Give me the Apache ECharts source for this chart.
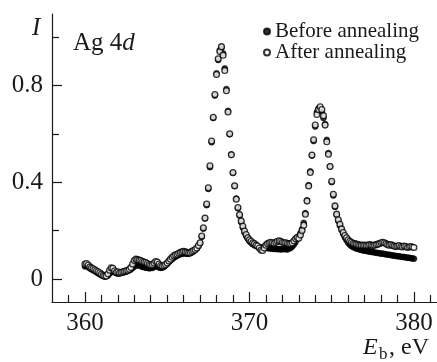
<!DOCTYPE html>
<html>
<head>
<meta charset="utf-8">
<script src="https://cdn.jsdelivr.net/npm/echarts@6/dist/echarts.min.js"></script>
<style>
  html, body { margin: 0; padding: 0; background: #fff; }
  #chart { width: 437px; height: 362px; }
</style>
</head>
<body>
<div id="chart"></div>
<script>
// binding energy grid, eV
const energies = [
  360.0, 360.1, 360.2, 360.3, 360.4, 360.5, 360.6, 360.7, 360.8, 360.9,
  361.0, 361.1, 361.2, 361.3, 361.4, 361.5, 361.6, 361.7, 361.8, 361.9,
  362.0, 362.1, 362.2, 362.3, 362.4, 362.5, 362.6, 362.7, 362.8, 362.9,
  363.0, 363.1, 363.2, 363.3, 363.4, 363.5, 363.6, 363.7, 363.8, 363.9,
  364.0, 364.1, 364.2, 364.3, 364.4, 364.5, 364.6, 364.7, 364.8, 364.9,
  365.0, 365.1, 365.2, 365.3, 365.4, 365.5, 365.6, 365.7, 365.8, 365.9,
  366.0, 366.1, 366.2, 366.3, 366.4, 366.5, 366.6, 366.7, 366.8, 366.9,
  367.0, 367.1, 367.2, 367.3, 367.4, 367.5, 367.6, 367.7, 367.8, 367.9,
  368.0, 368.1, 368.2, 368.3, 368.4, 368.5, 368.6, 368.7, 368.8, 368.9,
  369.0, 369.1, 369.2, 369.3, 369.4, 369.5, 369.6, 369.7, 369.8, 369.9,
  370.0, 370.1, 370.2, 370.3, 370.4, 370.5, 370.6, 370.7, 370.8, 370.9,
  371.0, 371.1, 371.2, 371.3, 371.4, 371.5, 371.6, 371.7, 371.8, 371.9,
  372.0, 372.1, 372.2, 372.3, 372.4, 372.5, 372.6, 372.7, 372.8, 372.9,
  373.0, 373.1, 373.2, 373.3, 373.4, 373.5, 373.6, 373.7, 373.8, 373.9,
  374.0, 374.1, 374.2, 374.3, 374.4, 374.5, 374.6, 374.7, 374.8, 374.9,
  375.0, 375.1, 375.2, 375.3, 375.4, 375.5, 375.6, 375.7, 375.8, 375.9,
  376.0, 376.1, 376.2, 376.3, 376.4, 376.5, 376.6, 376.7, 376.8, 376.9,
  377.0, 377.1, 377.2, 377.3, 377.4, 377.5, 377.6, 377.7, 377.8, 377.9,
  378.0, 378.1, 378.2, 378.3, 378.4, 378.5, 378.6, 378.7, 378.8, 378.9,
  379.0, 379.1, 379.2, 379.3, 379.4, 379.5, 379.6, 379.7, 379.8, 379.9,
  380.0
];

// intensity before annealing (filled dots)
const beforeValues = [
  0.052, 0.054, 0.050, 0.044, 0.040, 0.036, 0.033, 0.028, 0.024, 0.020,
  0.016, 0.012, 0.010, 0.011, 0.014, 0.022, 0.030, 0.032, 0.028, 0.024,
  0.022, 0.023, 0.024, 0.027, 0.028, 0.030, 0.033, 0.036, 0.040, 0.046,
  0.052, 0.056, 0.058, 0.055, 0.054, 0.050, 0.049, 0.047, 0.046, 0.044,
  0.045, 0.046, 0.050, 0.054, 0.052, 0.048, 0.046, 0.047, 0.050, 0.056,
  0.062, 0.070, 0.076, 0.082, 0.088, 0.092, 0.096, 0.100, 0.102, 0.104,
  0.106, 0.105, 0.104, 0.104, 0.106, 0.110, 0.114, 0.120, 0.126, 0.136,
  0.148, 0.174, 0.208, 0.250, 0.305, 0.372, 0.462, 0.565, 0.665, 0.758,
  0.850, 0.905, 0.946, 0.955, 0.932, 0.870, 0.785, 0.695, 0.598, 0.515,
  0.438, 0.384, 0.332, 0.292, 0.262, 0.235, 0.212, 0.192, 0.178, 0.166,
  0.156, 0.150, 0.144, 0.140, 0.136, 0.134, 0.132, 0.130, 0.131, 0.128,
  0.128, 0.129, 0.126, 0.127, 0.125, 0.124, 0.125, 0.123, 0.124, 0.122,
  0.124, 0.123, 0.124, 0.122, 0.126, 0.128, 0.134, 0.142, 0.152, 0.166,
  0.176, 0.190, 0.206, 0.232, 0.272, 0.325, 0.388, 0.445, 0.510, 0.570,
  0.630, 0.690, 0.705, 0.700, 0.690, 0.665, 0.640, 0.575, 0.520, 0.465,
  0.400, 0.345, 0.298, 0.265, 0.240, 0.220, 0.202, 0.186, 0.172, 0.160,
  0.150, 0.142, 0.136, 0.132, 0.129, 0.126, 0.124, 0.122, 0.121, 0.118,
  0.117, 0.117, 0.114, 0.114, 0.112, 0.111, 0.110, 0.108, 0.108, 0.106,
  0.105, 0.105, 0.103, 0.102, 0.101, 0.100, 0.099, 0.097, 0.097, 0.095,
  0.094, 0.094, 0.092, 0.091, 0.091, 0.089, 0.088, 0.088, 0.086, 0.085,
  0.084
];

// intensity after annealing (open circles)
const afterValues = [
  0.062, 0.064, 0.058, 0.050, 0.046, 0.042, 0.038, 0.034, 0.030, 0.026,
  0.020, 0.015, 0.012, 0.012, 0.022, 0.036, 0.046, 0.044, 0.034, 0.028,
  0.030, 0.026, 0.028, 0.030, 0.032, 0.034, 0.036, 0.040, 0.048, 0.062,
  0.076, 0.082, 0.080, 0.078, 0.076, 0.072, 0.070, 0.068, 0.064, 0.060,
  0.058, 0.060, 0.066, 0.072, 0.070, 0.062, 0.056, 0.054, 0.056, 0.060,
  0.066, 0.074, 0.082, 0.090, 0.096, 0.100, 0.102, 0.106, 0.110, 0.112,
  0.114, 0.112, 0.110, 0.108, 0.110, 0.114, 0.118, 0.122, 0.128, 0.138,
  0.150, 0.178, 0.212, 0.252, 0.310, 0.377, 0.468, 0.570, 0.668, 0.762,
  0.845, 0.910, 0.940, 0.960, 0.925, 0.862, 0.778, 0.690, 0.600, 0.513,
  0.440, 0.385, 0.330, 0.295, 0.266, 0.240, 0.218, 0.198, 0.184, 0.170,
  0.162, 0.156, 0.150, 0.146, 0.140, 0.136, 0.128, 0.120, 0.118, 0.128,
  0.140, 0.146, 0.150, 0.152, 0.150, 0.148, 0.152, 0.156, 0.158, 0.156,
  0.152, 0.150, 0.150, 0.148, 0.146, 0.146, 0.150, 0.158, 0.166, 0.172,
  0.168, 0.182, 0.200, 0.222, 0.268, 0.322, 0.384, 0.440, 0.512, 0.575,
  0.636, 0.680, 0.700, 0.712, 0.700, 0.675, 0.636, 0.567, 0.516, 0.465,
  0.404, 0.350, 0.302, 0.268, 0.245, 0.226, 0.207, 0.192, 0.180, 0.170,
  0.162, 0.156, 0.152, 0.148, 0.146, 0.144, 0.142, 0.140, 0.140, 0.139,
  0.140, 0.138, 0.140, 0.142, 0.140, 0.138, 0.140, 0.142, 0.144, 0.146,
  0.150, 0.152, 0.150, 0.146, 0.142, 0.140, 0.142, 0.138, 0.136, 0.134,
  0.136, 0.138, 0.134, 0.132, 0.136, 0.134, 0.130, 0.132, 0.134, 0.132,
  0.130
];

const xMajorTicks = [360, 370, 380];
const xMinorTicks = [359, 361, 362, 363, 364, 365, 366, 367, 368, 369,
  371, 372, 373, 374, 375, 376, 377, 378, 379, 381];
const yMajorTicks = [0, 0.4, 0.8];
const yMinorTicks = [0.2, 0.6, 1.0];

const ink = "#1a1a1a";
const serif = "'Liberation Serif', 'DejaVu Serif', serif";

const axisLineStyle = { color: ink, width: 1.2 };

function pairs(values) {
  return energies.map((e, i) => [e, values[i]]);
}

const chart = echarts.init(document.getElementById("chart"));

chart.setOption({
  animation: false,
  backgroundColor: "#fff",
  grid: { left: 52, right: 0, top: 14, bottom: 60 },
  xAxis: [
    {
      type: "value",
      min: 358,
      max: 381.4,
      axisLine: { show: true, onZero: false, lineStyle: axisLineStyle },
      axisTick: { show: true, inside: true, length: 10, customValues: xMajorTicks, lineStyle: axisLineStyle },
      axisLabel: {
        customValues: xMajorTicks,
        color: ink,
        fontFamily: serif,
        fontSize: 25,
        margin: 9,
      },
      splitLine: { show: false },
    },
    {
      type: "value",
      min: 358,
      max: 381.4,
      position: "bottom",
      axisLine: { show: false, onZero: false },
      axisTick: { show: true, inside: true, length: 7, customValues: xMinorTicks, lineStyle: axisLineStyle },
      axisLabel: { show: false },
      splitLine: { show: false },
    },
  ],
  yAxis: [
    {
      type: "value",
      min: -0.095,
      max: 1.095,
      axisLine: { show: true, onZero: false, lineStyle: axisLineStyle },
      axisTick: { show: true, inside: true, length: 10, customValues: yMajorTicks, lineStyle: axisLineStyle },
      axisLabel: {
        customValues: yMajorTicks,
        formatter: (v) => (v === 0 ? "0" : v.toFixed(1)),
        color: ink,
        fontFamily: serif,
        fontSize: 25,
        margin: 9,
      },
      splitLine: { show: false },
    },
    {
      type: "value",
      min: -0.095,
      max: 1.095,
      position: "left",
      axisLine: { show: false, onZero: false },
      axisTick: { show: true, inside: true, length: 7, customValues: yMinorTicks, lineStyle: axisLineStyle },
      axisLabel: { show: false },
      splitLine: { show: false },
    },
  ],
  legend: {
    data: ["Before annealing", "After annealing"],
    orient: "vertical",
    left: 263,
    top: 21,
    itemWidth: 6,
    itemHeight: 6,
    itemGap: 0,
    padding: 0,
    textStyle: { color: ink, fontFamily: serif, fontSize: 21, lineHeight: 18.5 },
  },
  series: [
    {
      name: "Before annealing",
      type: "scatter",
      data: pairs(beforeValues),
      symbol: "circle",
      symbolSize: 5.8,
      itemStyle: { color: "#000", borderColor: "#000", borderWidth: 0.8 },
    },
    {
      name: "After annealing",
      type: "scatter",
      data: pairs(afterValues),
      symbol: "circle",
      symbolSize: 5.8,
      itemStyle: { color: "#fff", borderColor: "#000", borderWidth: 1.3 },
    },
  ],
  graphic: [
    {
      type: "text",
      left: 32,
      top: 16,
      style: { text: "I", fill: ink, font: "italic 25px " + serif },
    },
    {
      type: "text",
      left: 73,
      top: 31,
      style: {
        text: "{n|Ag 4}{i|d}",
        rich: {
          n: { fill: ink, fontFamily: serif, fontSize: 25 },
          i: { fill: ink, fontFamily: serif, fontSize: 25, fontStyle: "italic" },
        },
      },
    },
    {
      type: "text",
      left: 363,
      top: 336,
      style: { text: "E", fill: ink, font: "italic 24px " + serif },
    },
    {
      type: "text",
      left: 379,
      top: 346,
      style: { text: "b", fill: ink, font: "17px " + serif },
    },
    {
      type: "text",
      left: 389,
      top: 336,
      style: { text: ", eV", fill: ink, font: "24px " + serif },
    },
  ],
});
</script>
</body>
</html>
